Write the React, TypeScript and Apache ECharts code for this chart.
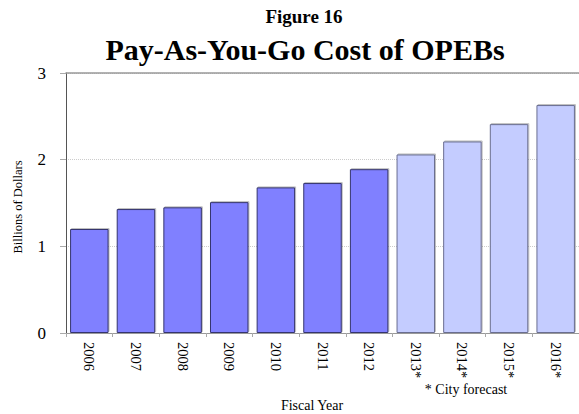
import React, { useEffect, useRef } from "react";
import * as echarts from "echarts";

const years = ["2006", "2007", "2008", "2009", "2010", "2011", "2012", "2013*", "2014*", "2015*", "2016*"];
const costs = [1.2, 1.43, 1.45, 1.51, 1.68, 1.73, 1.89, 2.06, 2.21, 2.41, 2.63];
const forecast = [false, false, false, false, false, false, false, true, true, true, true];
const yTicks = [0, 1, 2, 3];

const FONT = '"Liberation Serif", "Times New Roman", serif';

export default function App() {
  const ref = useRef<HTMLDivElement>(null);
  useEffect(() => {
    if (!ref.current) return;
    const chart = echarts.init(ref.current, undefined, { renderer: "svg" });
    const data = costs.map((v, i) => ({
      value: v,
      itemStyle: forecast[i]
        ? { color: "#C4CCFF", borderColor: "#6A6E90", borderWidth: 1 }
        : { color: "#8080FF", borderColor: "#35356E", borderWidth: 1 },
    }));
    chart.setOption({
      animation: false,
      backgroundColor: "#ffffff",
      textStyle: { fontFamily: FONT },
      grid: { left: 66, right: -3, top: 73, bottom: 81, containLabel: false },
      xAxis: [
        {
          type: "category",
          data: years,
          position: "bottom",
          axisLine: { show: true, lineStyle: { color: "#999999", width: 1 } },
          axisTick: { show: true, length: 4, lineStyle: { color: "#aaaaaa" } },
          axisLabel: {
            rotate: -90,
            margin: 9,
            fontSize: 14.5,
            color: "#000000",
            fontFamily: FONT,
            interval: 0,
          },
        },
        {
          type: "category",
          data: years,
          position: "top",
          axisLine: { show: true, lineStyle: { color: "#999999", width: 1.5 } },
          axisTick: { show: false },
          axisLabel: { show: false },
        },
      ],
      yAxis: {
        type: "value",
        min: yTicks[0],
        max: yTicks[yTicks.length - 1],
        interval: 1,
        axisLine: { show: true, lineStyle: { color: "#555555", width: 1 } },
        axisTick: { show: true, length: 6, lineStyle: { color: "#aaaaaa" } },
        axisLabel: { margin: 20, fontSize: 17, color: "#000000", fontFamily: FONT },
        splitLine: { show: true, lineStyle: { color: "#cccccc", type: "dotted", width: 1 } },
      },
      series: [
        {
          type: "bar",
          xAxisIndex: 0,
          data,
          barCategoryGap: "17.5%",
          itemStyle: {
            shadowColor: "rgba(0,0,0,0.25)",
            shadowOffsetX: 1,
            shadowOffsetY: -1,
            shadowBlur: 0,
          },
        },
      ],
      graphic: [
        {
          type: "text",
          x: 304,
          y: 16,
          style: {
            text: "Figure 16",
            font: `bold 19px ${FONT}`,
            fill: "#000",
            align: "center",
            verticalAlign: "middle",
          },
        },
        {
          type: "text",
          x: 305,
          y: 49,
          style: {
            text: "Pay-As-You-Go Cost of OPEBs",
            font: `bold 30px ${FONT}`,
            fill: "#000",
            align: "center",
            verticalAlign: "middle",
          },
        },
        {
          type: "text",
          x: 18,
          y: 207,
          rotation: Math.PI / 2,
          style: {
            text: "Billions of Dollars",
            font: `12.5px ${FONT}`,
            fill: "#000",
            align: "center",
            verticalAlign: "middle",
          },
        },
        {
          type: "text",
          x: 312,
          y: 405,
          style: {
            text: "Fiscal Year",
            font: `14px ${FONT}`,
            fill: "#000",
            align: "center",
            verticalAlign: "middle",
          },
        },
        {
          type: "text",
          x: 466,
          y: 389,
          style: {
            text: "* City forecast",
            font: `14px ${FONT}`,
            fill: "#000",
            align: "center",
            verticalAlign: "middle",
          },
        },
      ],
    });
    return () => chart.dispose();
  }, []);
  return <div ref={ref} style={{ width: 579, height: 414, position: "absolute", left: 0, top: 0 }} />;
}
